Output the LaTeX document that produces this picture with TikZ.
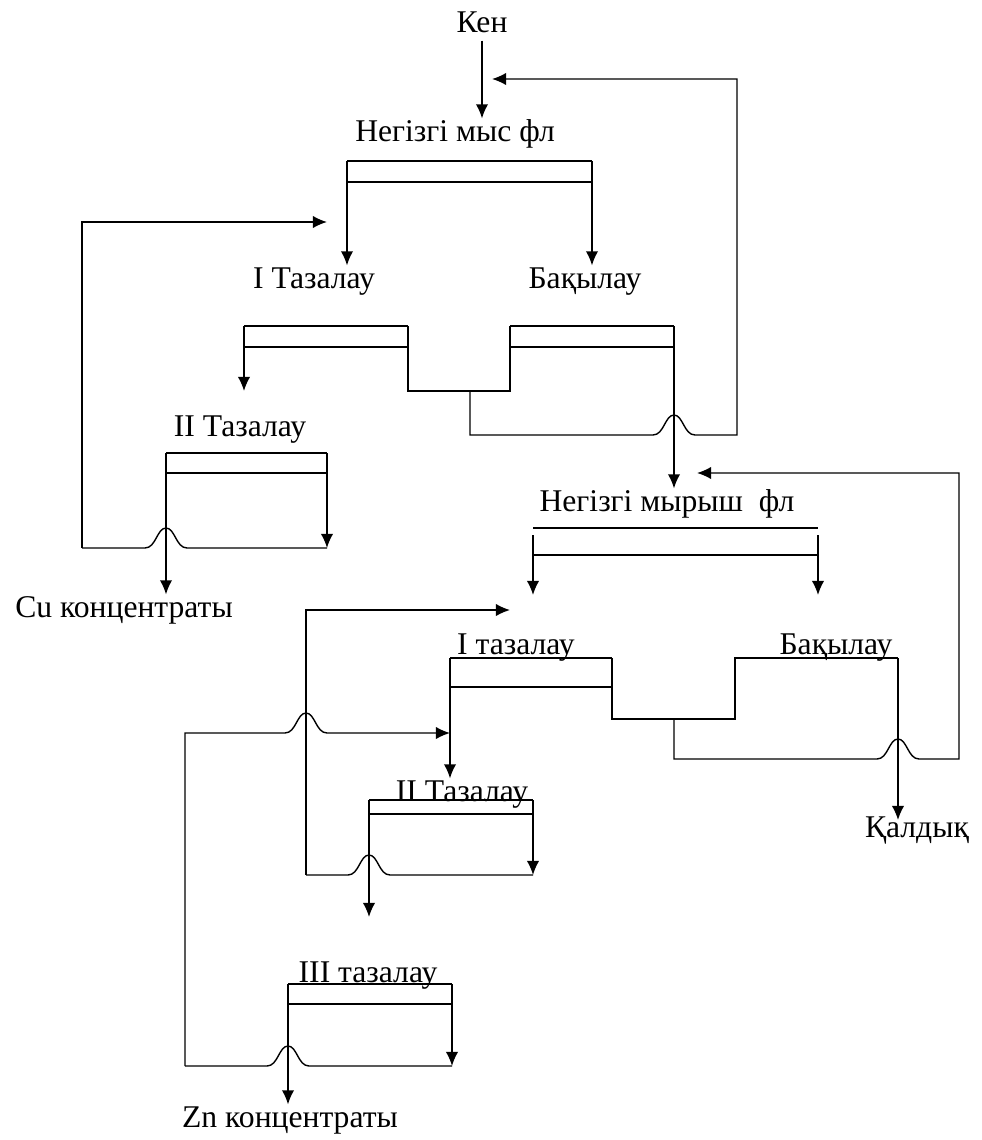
\documentclass[tikz,border=0pt]{standalone}
\usepackage{fontspec}
\setmainfont{Liberation Serif}
\usetikzlibrary{arrows.meta,calc}

% bump where a horizontal line jumps over a vertical one
\newcommand\hopover[1]{-- ($(#1)+(-21,0)$) .. controls ($(#1)+(-10,0)$) and ($(#1)+(-9,-20)$) .. ($(#1)+(0,-20)$) .. controls ($(#1)+(9,-20)$) and ($(#1)+(10,0)$) .. ($(#1)+(21,0)$)}

\begin{document}
\begin{tikzpicture}[x=0.02cm,y=-0.02cm,>={Latex[length=8pt,width=7pt]},line width=0.8pt,
  every node/.style={inner sep=0pt,text height=13pt,text depth=4pt,font=\fontsize{18pt}{20pt}\selectfont}]
  \useasboundingbox (0,0) rectangle (982,1140);
  % labels
  \node (ken) at (482,25) {Кен};
  \node (cufl) at (455,134) {Негізгі мыс фл};
  \node (cut1) at (314,281) {I Тазалау};
  \node (cuk) at (585,281) {Бақылау};
  \node (cut2) at (240,429) {II Тазалау};
  \node (cuc) at (124,610) {Cu концентраты};
  \node (znfl) at (667,504) {Негізгі мырыш\ \ фл};
  \node (znt1) at (516,647) {I тазалау};
  \node (znk) at (836,647) {Бақылау};
  \node (znt2) at (462,794) {II Тазалау};
  \node (znt3) at (368,975) {III тазалау};
  \node (tail) at (917,830) {Қалдық};
  \node (znc) at (290,1120) {Zn концентраты};

  % copper circuit
  \coordinate (fA) at (347,161); \coordinate (fB) at (592,161);
  \coordinate (gA) at (244,326); \coordinate (gB) at (408,326);
  \coordinate (kA) at (510,326); \coordinate (kB) at (674,326);
  \coordinate (cA) at (166,453); \coordinate (cB) at (327,453);
  \coordinate (mid1) at (470,391); \coordinate (r1) at (737,435);
  \coordinate (curet) at (492,79); \coordinate (l1) at (82,548);
  \coordinate (cut1in) at (327,222); \coordinate (cut2in) at (244,391);
  \coordinate (h1) at (kB |- r1); \coordinate (h2) at (cA |- l1);

  \draw[->] (ken.south) -- (ken.south |- cufl.north);
  \draw (fA) -- (fB) ($(fA)+(0,21)$) -- ($(fB)+(0,21)$);
  \draw[->] (fA) -- (fA |- cut1.north);
  \draw[->] (fB) -- (fB |- cuk.north);

  \draw (gA) -- (gB) ($(gA)+(0,21)$) -- ($(gB)+(0,21)$);
  \draw (kA) -- (kB) ($(kA)+(0,21)$) -- ($(kB)+(0,21)$);
  \draw[->] (gA) -- (cut2in);
  \draw (gB) |- (mid1) -| (kA);
  \draw[->] (mid1) -- (mid1 |- r1) \hopover{h1} -- (r1) |- (curet);
  \draw[->] (kB) -- (kB |- znfl.north);

  \draw (cA) -- (cB) ($(cA)+(0,20)$) -- ($(cB)+(0,20)$);
  \draw[->] (cA) -- (cA |- cuc.north);
  \draw[->] (cB) -- (cB |- l1);
  \draw (l1) \hopover{h2} -- (cB |- l1);
  \draw[->] (l1) |- (cut1in);

  % zinc circuit
  \coordinate (zA) at (533,528); \coordinate (zB) at (818,528);
  \coordinate (pA) at (450,658); \coordinate (pB) at (612,658);
  \coordinate (qA) at (735,658); \coordinate (qB) at (898,658);
  \coordinate (sA) at (369,800); \coordinate (sB) at (533,800);
  \coordinate (uA) at (288,984); \coordinate (uB) at (452,984);
  \coordinate (mid2) at (674,719); \coordinate (r2) at (959,759);
  \coordinate (znret) at (697,473); \coordinate (tailin) at (898,820);
  \coordinate (l2) at (306,875); \coordinate (znt1in) at (510,610);
  \coordinate (l3) at (185,1066); \coordinate (l3t) at (185,733);
  \coordinate (h3) at (qB |- r2); \coordinate (h4) at (l2 |- l3t);
  \coordinate (h5) at (sA |- l2); \coordinate (h6) at (uA |- l3);

  \draw (zA) -- (zB) ($(zA)+(0,27)$) -- ($(zB)+(0,27)$);
  \draw[->] ($(zA)+(0,7)$) -- ($(zA)+(0,67)$);
  \draw[->] ($(zB)+(0,7)$) -- ($(zB)+(0,67)$);

  \draw (pA) -- (pB) ($(pA)+(0,29)$) -- ($(pB)+(0,29)$);
  \draw (pB) |- (mid2) -| (qA) -- (qB);
  \draw[->] (pA) -- (pA |- znt2.north);
  \draw[->] (qB) -- (tailin);
  \draw[->] (mid2) -- (mid2 |- r2) \hopover{h3} -- (r2) |- (znret);

  \draw (sA) -- (sB) ($(sA)+(0,14)$) -- ($(sB)+(0,14)$);
  \draw[->] (sA) -- (369,917);
  \draw[->] (sB) -- (sB |- l2);
  \draw (l2) \hopover{h5} -- (sB |- l2);
  \draw[->] (l2) |- (znt1in);

  \draw (uA) -- (uB) ($(uA)+(0,20)$) -- ($(uB)+(0,20)$);
  \draw[->] (uA) -- (uA |- znc.north);
  \draw[->] (uB) -- (uB |- l3);
  \draw (l3) \hopover{h6} -- (uB |- l3);
  \draw[->] (l3) -- (l3t) \hopover{h4} -- (pA |- l3t);
\end{tikzpicture}
\end{document}
